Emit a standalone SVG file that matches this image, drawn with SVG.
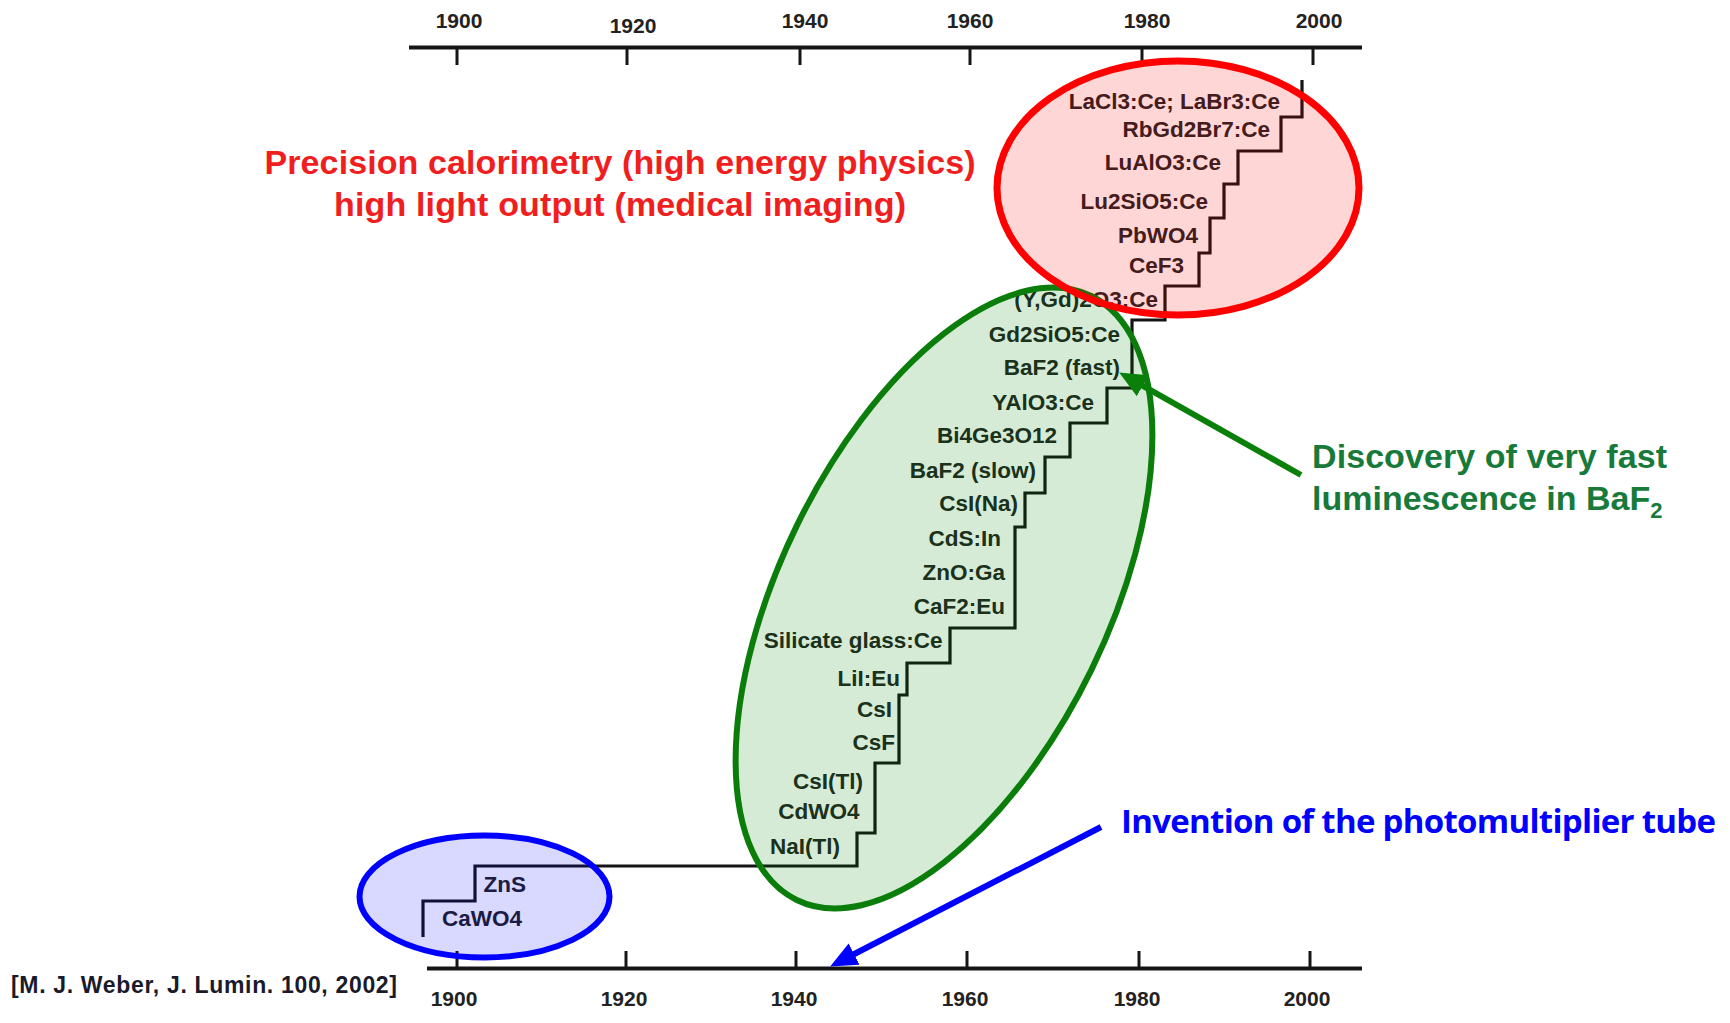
<svg xmlns="http://www.w3.org/2000/svg" width="1730" height="1023" viewBox="0 0 1730 1023">
<style>
.ax{stroke:#161616;stroke-width:4;fill:none}
.tk{stroke:#161616;stroke-width:3;fill:none}
.yr{font-family:"Liberation Sans",Arial,sans-serif;font-weight:bold;font-size:21px;fill:#222;text-anchor:middle}
.lb{font-family:"Liberation Sans",Arial,sans-serif;font-weight:bold;font-size:22.5px;fill:#222;text-anchor:end}
.stair{stroke:#141414;stroke-width:3.2;fill:none;stroke-linejoin:miter}
.big{font-family:"Liberation Sans",Arial,sans-serif;font-weight:bold;font-size:34px}
.inv{font-family:"Open Sans","Liberation Sans",Arial,sans-serif;font-weight:bold;font-size:33px;fill:#0000ff}
.cite{font-family:"Liberation Sans",Arial,sans-serif;font-weight:bold;font-size:23px;fill:#1a1a2a}
</style>
<defs>
<marker id="headG" markerUnits="userSpaceOnUse" markerWidth="30" markerHeight="26" refX="14" refY="12" orient="auto">
<path d="M0,0 L27,12 L0,24 z" fill="#0a800a"/>
</marker>
<marker id="headB" markerUnits="userSpaceOnUse" markerWidth="30" markerHeight="26" refX="14" refY="12" orient="auto">
<path d="M0,0 L27,12 L0,24 z" fill="#0000ff"/>
</marker>
</defs>
<rect width="1730" height="1023" fill="#ffffff"/>

<g id="axis-top">
<line class="ax" x1="409" y1="47.5" x2="1362" y2="47.5"/>
<path class="tk" d="M457 47V65M627 47V65M800 47V65M970 47V65M1142 47V65M1313 47V65"/>
<text class="yr" x="459" y="28">1900</text>
<text class="yr" x="633" y="33">1920</text>
<text class="yr" x="805" y="28">1940</text>
<text class="yr" x="970" y="28">1960</text>
<text class="yr" x="1147" y="28">1980</text>
<text class="yr" x="1319" y="28">2000</text>
</g>

<g id="axis-bottom">
<line class="ax" x1="427" y1="968.5" x2="1362" y2="968.5"/>
<path class="tk" d="M457 951V968M626 951V968M796 951V968M967 951V968M1139 951V968M1310 951V968"/>
<text class="yr" x="454" y="1006">1900</text>
<text class="yr" x="624" y="1006">1920</text>
<text class="yr" x="794" y="1006">1940</text>
<text class="yr" x="965" y="1006">1960</text>
<text class="yr" x="1137" y="1006">1980</text>
<text class="yr" x="1307" y="1006">2000</text>
</g>

<g id="staircase">
<path class="stair" d="M423 937V901H475V866H857V833H875V763H899V695H907V663H950V628H1015V527H1025V493H1045V457H1070V423H1107V388H1132V320H1165V286H1199V253H1210V218H1224V184H1238V151H1281V117H1302V80"/>
</g>

<g id="group-early">
<text class="lb" x="526" y="891.5">ZnS</text>
<text class="lb" x="522" y="925.5">CaWO4</text>
<ellipse cx="484.5" cy="896.5" rx="125" ry="61" fill="#0000ff" fill-opacity="0.15" stroke="#0000ff" stroke-width="6"/>
</g>

<g id="group-middle">
<text class="lb" x="1158" y="307">(Y,Gd)2O3:Ce</text>
<text class="lb" x="1120" y="341.5">Gd2SiO5:Ce</text>
<text class="lb" x="1120" y="375">BaF2 (fast)</text>
<text class="lb" x="1094" y="409.5">YAlO3:Ce</text>
<text class="lb" x="1057" y="443">Bi4Ge3O12</text>
<text class="lb" x="1036" y="478">BaF2 (slow)</text>
<text class="lb" x="1018" y="511">CsI(Na)</text>
<text class="lb" x="1001" y="545.5">CdS:In</text>
<text class="lb" x="1005" y="579.5">ZnO:Ga</text>
<text class="lb" x="1005" y="614">CaF2:Eu</text>
<text class="lb" x="942.5" y="647.5">Silicate glass:Ce</text>
<text class="lb" x="900" y="685.5">LiI:Eu</text>
<text class="lb" x="892" y="717">CsI</text>
<text class="lb" x="895" y="749.5">CsF</text>
<text class="lb" x="863" y="789">CsI(Tl)</text>
<text class="lb" x="859.5" y="819">CdWO4</text>
<text class="lb" x="840" y="853.5">NaI(Tl)</text>
<ellipse cx="944" cy="598" rx="336" ry="164" transform="rotate(-64 944 598)" fill="#008000" fill-opacity="0.16" stroke="#0a7d0a" stroke-width="6"/>
</g>

<g id="group-modern">
<text class="lb" x="1280" y="109">LaCl3:Ce; LaBr3:Ce</text>
<text class="lb" x="1270" y="136.5">RbGd2Br7:Ce</text>
<text class="lb" x="1221" y="170">LuAlO3:Ce</text>
<text class="lb" x="1208" y="208.5">Lu2SiO5:Ce</text>
<text class="lb" x="1198" y="243">PbWO4</text>
<text class="lb" x="1184" y="273">CeF3</text>
<ellipse cx="1178" cy="188" rx="181" ry="127" fill="#ff0000" fill-opacity="0.16" stroke="#ff0000" stroke-width="7"/>
</g>

<g id="connectors">
<line x1="1301" y1="475" x2="1130.5" y2="378.9" stroke="#0a800a" stroke-width="6" marker-end="url(#headG)"/>
<line x1="1101" y1="827" x2="841.7" y2="960.5" stroke="#0000ff" stroke-width="6" marker-end="url(#headB)"/>
</g>

<g id="label-precision">
<text class="big" fill="#f01e1e" text-anchor="middle" x="620" y="174" textLength="711">Precision calorimetry (high energy physics)</text>
<text class="big" fill="#f01e1e" text-anchor="middle" x="620" y="216" textLength="572">high light output (medical imaging)</text>
</g>

<g id="label-baf2">
<text class="big" fill="#177a3a" x="1312" y="468" textLength="355">Discovery of very fast</text>
<text class="big" fill="#177a3a" x="1312" y="510">luminescence in BaF<tspan font-size="22" dy="8">2</tspan></text>
</g>

<g id="label-pmt">
<text class="inv" x="1121" y="833" textLength="595">Invention of the photomultiplier tube</text>
</g>

<g id="citation">
<text class="cite" x="11" y="993" textLength="386">[M. J. Weber, J. Lumin. 100, 2002]</text>
</g>
</svg>
